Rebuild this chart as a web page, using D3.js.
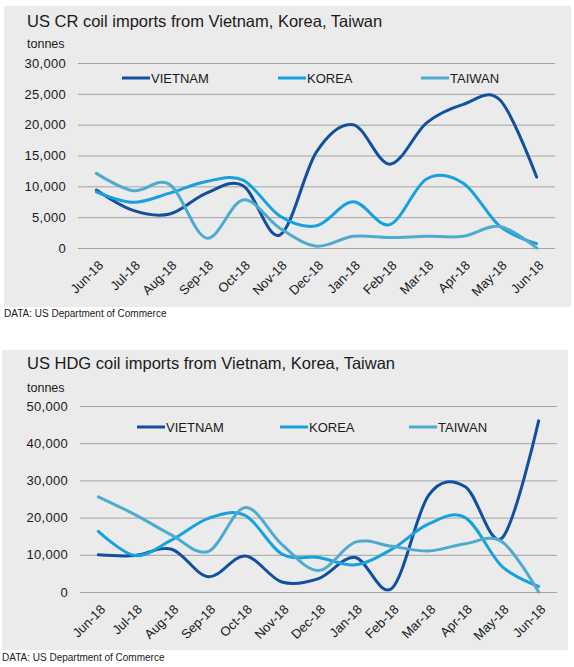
<!DOCTYPE html>
<html>
<head>
<meta charset="utf-8">
<script src="https://cdn.jsdelivr.net/npm/d3@7/dist/d3.min.js"></script>
<style>
  html, body { margin: 0; padding: 0; background: #ffffff; }
  svg { display: block; font-family: "Liberation Sans", Arial, sans-serif; }
</style>
</head>
<body>
<svg id="chart" width="574" height="667"></svg>
<script>
// ---- Data ----
const months = ["Jun-18","Jul-18","Aug-18","Sep-18","Oct-18","Nov-18","Dec-18","Jan-18","Feb-18","Mar-18","Apr-18","May-18","Jun-18"];
const seriesNames = ["VIETNAM", "KOREA", "TAIWAN"];

const crTitle = "US CR coil imports from Vietnam, Korea, Taiwan";
const crVietnam = [9400, 6100, 5500, 8900, 10100, 2100, 15600, 20000, 13600, 20300, 23300, 24000, 11500];
const crKorea   = [9100, 7400, 8900, 10800, 11000, 5200, 3600, 7500, 3800, 11200, 10500, 3500, 700];
const crTaiwan  = [12100, 9300, 10300, 1600, 7800, 3200, 300, 1900, 1700, 1900, 1900, 3500, 0];
const crTicks   = [0, 5000, 10000, 15000, 20000, 25000, 30000];

const hdgTitle = "US HDG coil imports from Vietnam, Korea, Taiwan";
const hdgVietnam = [10000, 9800, 11500, 4100, 9700, 2700, 3600, 9300, 1000, 26000, 28300, 14500, 46000];
const hdgKorea   = [16300, 9800, 14000, 19800, 20600, 10200, 9300, 7300, 11500, 18300, 20000, 6900, 1500];
const hdgTaiwan  = [25600, 20800, 15300, 10900, 22700, 12800, 5800, 13400, 12300, 11000, 13000, 13500, 0];
const hdgTicks   = [0, 10000, 20000, 30000, 40000, 50000];

const unitLabel = "tonnes";
const sourceText = "DATA: US Department of Commerce";

// ---- Styles ----
const colors = ["#11509f", "#17a1de", "#4eabd0"];
const svg = d3.select("#chart");

function drawChart(cfg) {
  const g = svg.append("g");
  g.append("rect")
    .attr("x", cfg.box[0]).attr("y", cfg.box[1])
    .attr("width", cfg.box[2] - cfg.box[0]).attr("height", cfg.box[3] - cfg.box[1])
    .attr("fill", "#ebebeb");

  g.append("text").attr("x", cfg.titleX).attr("y", cfg.titleY)
    .attr("font-size", 16.5).attr("fill", "#1a1a1a").text(cfg.title);
  g.append("text").attr("x", cfg.titleX).attr("y", cfg.unitY)
    .attr("font-size", 12.5).attr("fill", "#1a1a1a").text(unitLabel);

  const x = d3.scalePoint().domain(d3.range(months.length)).range(cfg.xRange).padding(0.5);
  const y = d3.scaleLinear().domain([0, cfg.yMax]).range(cfg.yRange);

  const ya = g.append("g").attr("transform", `translate(${cfg.xRange[0]},0)`)
    .call(d3.axisLeft(y).tickValues(cfg.ticks).tickSizeInner(-(cfg.xRange[1] - cfg.xRange[0]))
      .tickSizeOuter(0).tickPadding(12).tickFormat(d3.format(",")));
  ya.select(".domain").remove();
  ya.selectAll(".tick line").attr("stroke", "#a3a3a3").attr("stroke-width", 1);
  ya.selectAll(".tick text").attr("font-size", 13).attr("fill", "#1a1a1a")
    .attr("font-family", "'Liberation Sans', Arial, sans-serif").attr("letter-spacing", 0.3);

  const xa = g.append("g").attr("transform", `translate(0,${cfg.yRange[0]})`)
    .call(d3.axisBottom(x).tickSize(0).tickFormat(i => months[i]));
  xa.select(".domain").remove();
  xa.selectAll(".tick text")
    .attr("font-size", 13).attr("fill", "#1a1a1a")
    .attr("font-family", "'Liberation Sans', Arial, sans-serif")
    .attr("text-anchor", "end")
    .attr("dy", "0.35em")
    .attr("transform", "translate(4,15) rotate(-45)")
    .attr("y", 0).attr("x", 0);

  const line = d3.line().x((d, i) => x(i)).y(d => y(d)).curve(d3.curveCardinal.tension(0));
  cfg.series.forEach((s, k) => {
    g.append("path").datum(s).attr("d", line)
      .attr("fill", "none").attr("stroke", colors[k]).attr("stroke-width", 3)
      .attr("stroke-linejoin", "round").attr("stroke-linecap", "round");
  });

  seriesNames.forEach((n, k) => {
    const lx = cfg.legendX[k];
    g.append("line").attr("x1", lx).attr("x2", lx + 28)
      .attr("y1", cfg.legendY).attr("y2", cfg.legendY)
      .attr("stroke", colors[k]).attr("stroke-width", 3);
    g.append("text").attr("x", lx + 29).attr("y", cfg.legendY).attr("dy", "0.36em")
      .attr("font-size", 13).attr("fill", "#1a1a1a").text(n);
  });

  g.append("text").attr("x", cfg.box[0]).attr("y", cfg.sourceY)
    .attr("font-size", 10).attr("fill", "#1a1a1a").text(sourceText);
}

drawChart({
  box: [4, 6, 571, 307], title: crTitle, titleX: 27, titleY: 27, unitY: 48,
  xRange: [78, 555], yRange: [248, 63], yMax: 30000, ticks: crTicks,
  series: [crVietnam, crKorea, crTaiwan],
  legendX: [122, 278, 421], legendY: 78, sourceY: 317
});

drawChart({
  box: [2, 350, 568, 650], title: hdgTitle, titleX: 27, titleY: 369, unitY: 392,
  xRange: [80, 557], yRange: [592, 406], yMax: 50000, ticks: hdgTicks,
  series: [hdgVietnam, hdgKorea, hdgTaiwan],
  legendX: [137, 280, 409], legendY: 427, sourceY: 661
});
</script>
</body>
</html>
